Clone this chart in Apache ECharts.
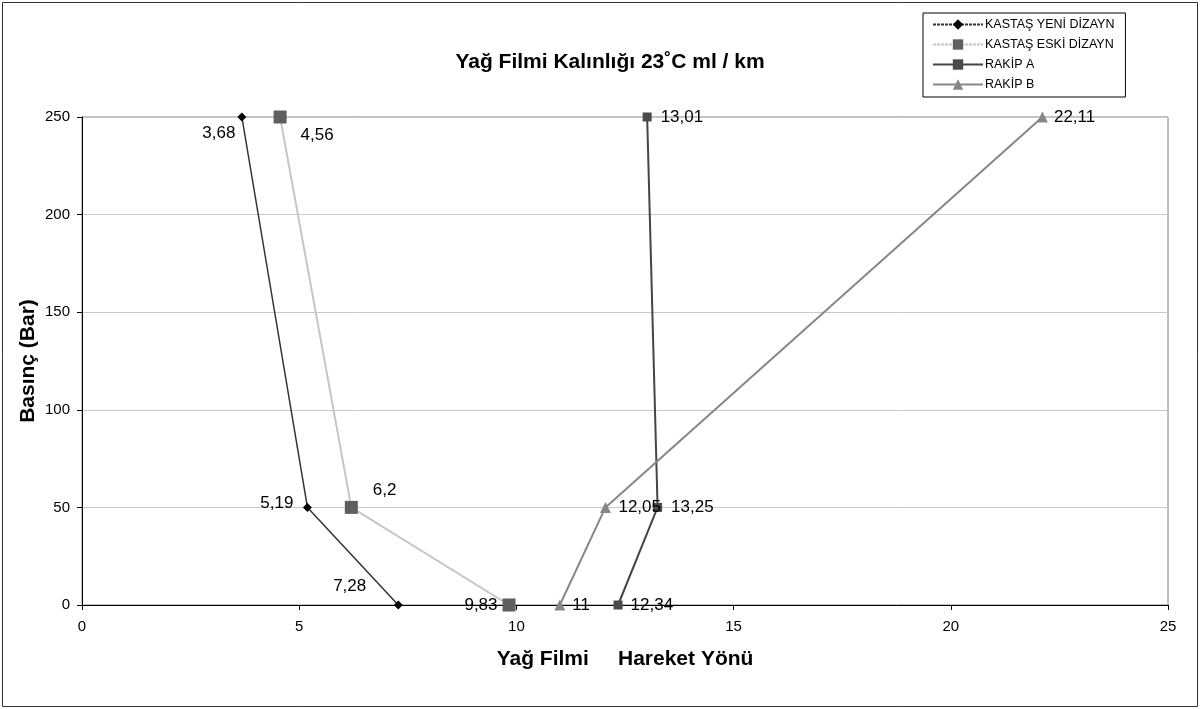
<!DOCTYPE html>
<html>
<head>
<meta charset="utf-8">
<script src="https://cdn.jsdelivr.net/npm/echarts@6/dist/echarts.min.js"></script>
<style>
  html, body { margin: 0; padding: 0; background: #fff; }
  #chart { width: 1200px; height: 709px; }
</style>
</head>
<body>
<div id="chart"></div>
<script>
// Pressure levels (Bar) at which the film thickness was measured
const pressures = [250, 50, 0];

// Film thickness (ml / km) per design, in the same order as pressures
const seriesNames = ['KASTAŞ YENİ DİZAYN', 'KASTAŞ ESKİ DİZAYN', 'RAKİP A', 'RAKİP B'];
const yeniDizayn = [3.68, 5.19, 7.28];
const eskiDizayn = [4.56, 6.2, 9.83];
const rakipA = [13.01, 13.25, 12.34];
const rakipB = [22.11, 12.05, 11];

const xTicks = { min: 0, max: 25, interval: 5 };
const yTicks = { min: 0, max: 250, interval: 50 };

const FONT = '"Liberation Sans", Arial, sans-serif';

// Label placement for each point: [side, distance, dx, dy]
const labelPlace = [
  [['left', 2, 0, 16], ['left', 9.5, 0, -4], ['left', 27.5, 0, -19]],
  [['right', 14, 0, 18], ['right', 15, 0, -17], ['left', 5, 0, 0]],
  [['right', 9, 0, 0], ['right', 9, 0, 0], ['right', 8, 0, 0]],
  [['right', 6, 0, 0], ['right', 7.5, 0, 0], ['right', 7, 0, 0]]
];

const styles = [
  { color: '#333333', width: 1.5, symbol: 'diamond', size: 9, mark: '#000000' },
  { color: '#c6c6c6', width: 2, symbol: 'rect', size: 13, mark: '#5f5f5f' },
  { color: '#454545', width: 2, symbol: 'rect', size: 9, mark: '#4a4a4a' },
  { color: '#878787', width: 2, symbol: 'triangle', size: 11, mark: '#878787' }
];

const fmt = v => String(v).replace('.', ',');

function buildSeries(idx, xs) {
  const st = styles[idx];
  return {
    name: seriesNames[idx],
    type: 'line',
    symbol: st.symbol,
    symbolSize: st.size,
    lineStyle: { color: st.color, width: st.width },
    itemStyle: { color: st.mark },
    z: 3 + idx,
    data: xs.map((x, i) => {
      const p = labelPlace[idx][i];
      return {
        value: [x, pressures[i]],
        label: {
          show: true,
          position: p[0],
          distance: p[1],
          offset: [p[2], p[3]],
          formatter: () => fmt(x),
          color: '#000',
          fontSize: 17,
          fontFamily: FONT
        }
      };
    })
  };
}

const chart = echarts.init(document.getElementById('chart'), null, { renderer: 'canvas' });

chart.setOption({
  animation: false,
  backgroundColor: '#ffffff',
  title: {
    text: 'Yağ Filmi Kalınlığı 23˚C ml / km',
    left: 605,
    textAlign: 'center',
    top: 47,
    textStyle: { fontFamily: FONT, fontSize: 21, fontWeight: 'bold', color: '#000' }
  },
  legend: {
    orient: 'vertical',
    left: 923,
    top: 13,
    padding: [5, 11, 6, 9],
    itemGap: 7,
    itemWidth: 50,
    itemHeight: 13,
    backgroundColor: '#fff',
    borderColor: '#000',
    borderWidth: 1,
    borderRadius: 0,
    textStyle: { fontFamily: FONT, fontSize: 12.5, color: '#000', padding: [0, 0, 0, -3] },
    data: [
      { name: seriesNames[0], lineStyle: { type: [3, 1] } },
      { name: seriesNames[1], lineStyle: { type: [3, 1] } },
      { name: seriesNames[2] },
      { name: seriesNames[3] }
    ]
  },
  grid: {
    left: 82,
    right: 32,
    top: 117,
    bottom: 104,
    show: true,
    borderColor: '#808080',
    borderWidth: 1,
    backgroundColor: '#fff'
  },
  xAxis: {
    type: 'value',
    min: xTicks.min,
    max: xTicks.max,
    interval: xTicks.interval,
    name: 'Yağ Filmi     Hareket Yönü',
    nameLocation: 'middle',
    nameGap: 44,
    nameTextStyle: { fontFamily: FONT, fontSize: 21, fontWeight: 'bold', color: '#000' },
    axisLine: { show: true, lineStyle: { color: '#000', width: 1 } },
    axisTick: { show: true, inside: false, length: 5, lineStyle: { color: '#000' } },
    axisLabel: { fontFamily: FONT, fontSize: 15, color: '#000', margin: 14 },
    splitLine: { show: false }
  },
  yAxis: {
    type: 'value',
    min: yTicks.min,
    max: yTicks.max,
    interval: yTicks.interval,
    name: 'Basınç (Bar)',
    nameLocation: 'middle',
    nameGap: 43,
    nameMoveOverlap: false,
    nameTextStyle: { fontFamily: FONT, fontSize: 21, fontWeight: 'bold', color: '#000' },
    axisLine: { show: true, lineStyle: { color: '#000', width: 1 } },
    axisTick: { show: true, inside: false, length: 5, lineStyle: { color: '#000' } },
    axisLabel: { fontFamily: FONT, fontSize: 15, color: '#000', margin: 12 },
    splitLine: { show: true, lineStyle: { color: '#c8c8c8', width: 1 } }
  },
  graphic: [
    {
      type: 'rect',
      shape: { x: 2.5, y: 2.5, width: 1195, height: 704 },
      style: { fill: 'none', stroke: '#333', lineWidth: 1 },
      silent: true,
      z: -1
    }
  ],
  series: [
    buildSeries(0, yeniDizayn),
    buildSeries(1, eskiDizayn),
    buildSeries(2, rakipA),
    buildSeries(3, rakipB)
  ]
});
</script>
</body>
</html>
